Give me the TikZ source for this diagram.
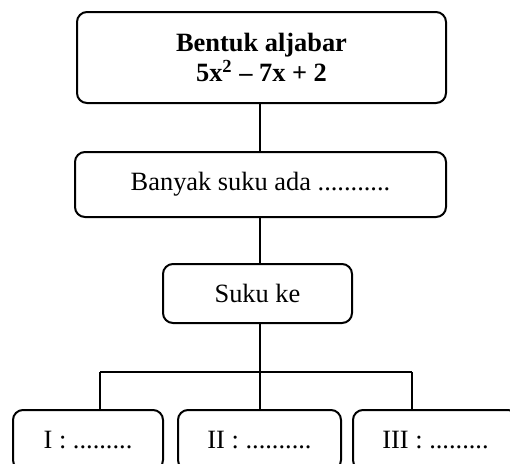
\documentclass[tikz,border=0pt]{standalone}
\usepackage{fontspec}
\setmainfont{Liberation Serif}
\begin{document}
\begin{tikzpicture}[x=0.5pt,y=-0.5pt,
  box/.style={draw,line width=1pt,rounded corners=5pt,inner sep=0pt,align=center,
    font=\fontsize{13.2}{15}\selectfont},
  link/.style={draw,line width=0.9pt}]
\clip (0,0) rectangle (510,463);
\useasboundingbox (0,0) rectangle (510,463);
\node[box,minimum width=184.5pt,minimum height=45.5pt,font=\fontsize{13.2}{15}\selectfont\bfseries]
  (top) at (261.5,57.5) {Bentuk aljabar\\5x\textsuperscript{2} – 7x + 2};
\node[box,minimum width=185.5pt,minimum height=32.5pt] (banyak) at (260.5,184.5) {Banyak suku ada ...........};
\node[box,minimum width=94.5pt,minimum height=29.5pt] (suku) at (257.5,293.5) {Suku ke};
\node[box,minimum width=75pt,minimum height=30pt] (b1) at (88,440) {I : .........};
\node[box,minimum width=81.5pt,minimum height=30pt] (b2) at (259.5,440) {II : ..........};
\node[box,minimum width=82.5pt,minimum height=30pt] (b3) at (435.5,440) {III : .........};
\coordinate (bus) at (260,372);
\coordinate (j1) at (100,372);
\coordinate (j3) at (412,372);
\draw[link] (top.south -| bus) -- (banyak.north -| bus);
\draw[link] (banyak.south -| bus) -- (suku.north -| bus);
\draw[link] (suku.south -| bus) -- (bus);
\draw[link] (j1) -- (j3);
\draw[link] (j1) -- (j1 |- b1.north);
\draw[link] (bus) -- (bus |- b2.north);
\draw[link] (j3) -- (j3 |- b3.north);
\end{tikzpicture}
\end{document}
